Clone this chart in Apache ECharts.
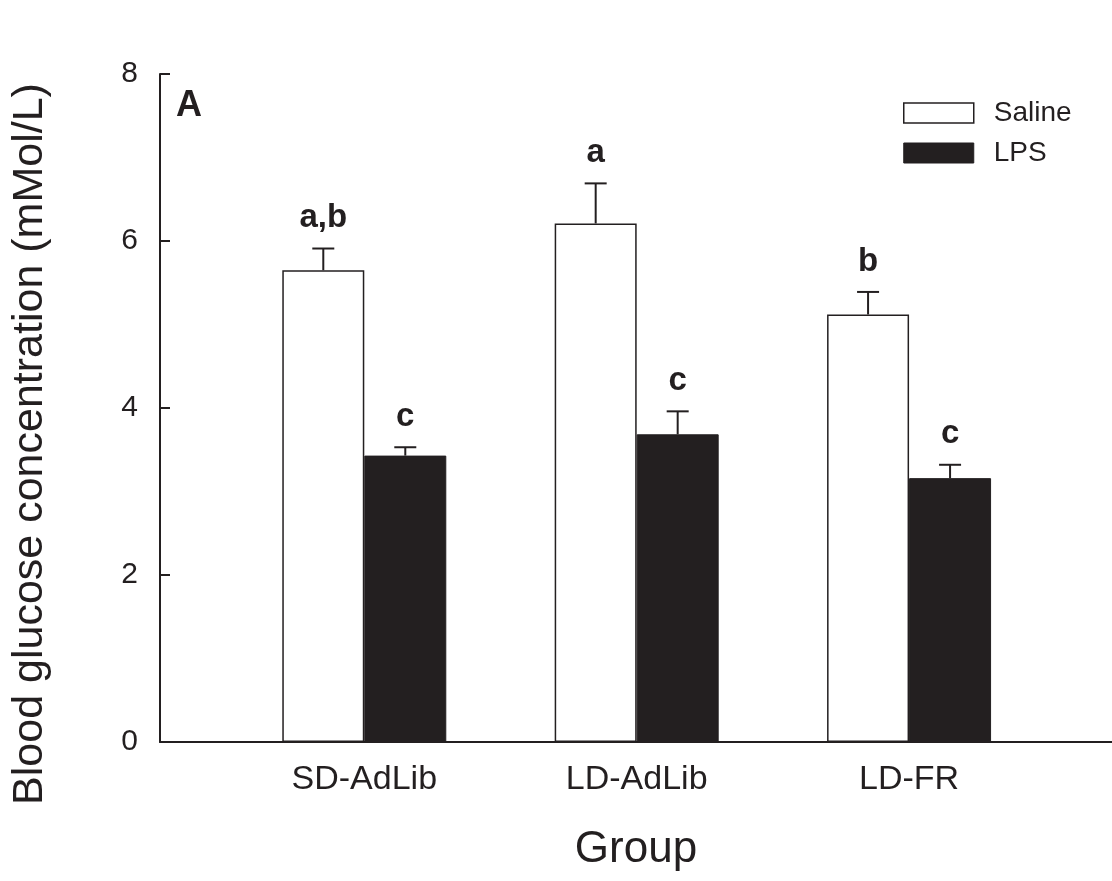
<!DOCTYPE html>
<html>
<head>
<meta charset="utf-8">
<script src="https://cdn.jsdelivr.net/npm/echarts@6/dist/echarts.min.js"></script>
<style>html,body{margin:0;padding:0;background:#fff;}#c{width:1112px;height:881px;}</style>
</head>
<body>
<div id="c"></div>
<script>
var categories = ['SD-AdLib', 'LD-AdLib', 'LD-FR'];
var categoryPos = [1, 2, 3];
var salineMean = [5.65, 6.21, 5.12];
var salineSem = [0.26, 0.48, 0.27];
var lpsMean = [3.43, 3.685, 3.16];
var lpsSem = [0.10, 0.275, 0.16];
var salineLetters = ['a,b', 'a', 'b'];
var lpsLetters = ['c', 'c', 'c'];
var yTicks = [0, 2, 4, 6, 8];

var INK = '#231f20';
var FONT = '"Liberation Sans", Arial, Helvetica, sans-serif';
var BAR_W = 82;

function pairs(vals) { return categoryPos.map(function (x, i) { return [x, vals[i]]; }); }
function triples(m, s) { return categoryPos.map(function (x, i) { return [x, m[i], s[i]]; }); }

function errRenderer(offset, letters) {
  return function (params, api) {
    var x = api.value(0), m = api.value(1), s = api.value(2);
    var base = api.coord([x, m]);
    var top = api.coord([x, m + s]);
    var cx = base[0] + offset;
    var capHalf = 11;
    return {
      type: 'group',
      children: [
        { type: 'line', shape: { x1: cx, y1: base[1], x2: cx, y2: top[1] }, style: { stroke: INK, lineWidth: 2 } },
        { type: 'line', shape: { x1: cx - capHalf, y1: top[1], x2: cx + capHalf, y2: top[1] }, style: { stroke: INK, lineWidth: 2 } },
        { type: 'text', x: cx, y: top[1] - 14, style: { text: letters[params.dataIndex], fill: INK, font: 'bold 33px ' + FONT, align: 'center', verticalAlign: 'bottom' } }
      ]
    };
  };
}

var chart = echarts.init(document.getElementById('c'), null, { renderer: 'canvas' });
chart.setOption({
  backgroundColor: '#fff',
  animation: false,
  grid: { left: 160, right: 0, top: 74, bottom: 139 },
  legend: {
    orient: 'vertical', left: 903, top: 99, padding: 0,
    icon: 'rect', itemWidth: 70, itemHeight: 20, itemGap: 12,
    textStyle: { fontSize: 28, fontFamily: FONT, color: INK, padding: [0, 0, 0, 15], lineHeight: 28 },
    data: [
      { name: 'Saline', itemStyle: { color: '#fff', borderColor: INK, borderWidth: 1.5 } },
      { name: 'LPS', itemStyle: { color: INK, borderColor: INK, borderWidth: 1 } }
    ]
  },
  xAxis: {
    type: 'value', min: 0.25, max: 3.745,
    name: 'Group', nameLocation: 'middle', nameGap: 86,
    nameTextStyle: { fontSize: 44, fontFamily: FONT, color: INK },
    axisLine: { show: true, onZero: false, lineStyle: { color: INK, width: 2 } },
    axisTick: { show: false },
    splitLine: { show: false },
    axisLabel: {
      customValues: categoryPos,
      formatter: function (v) { var i = categoryPos.indexOf(Math.round(v)); return i >= 0 ? categories[i] : ''; },
      fontSize: 34, fontFamily: FONT, color: INK, margin: 21
    }
  },
  yAxis: {
    type: 'value', min: 0, max: 8, interval: 2,
    axisLine: { show: true, lineStyle: { color: INK, width: 2 } },
    axisTick: { show: true, inside: true, length: 10, lineStyle: { color: INK, width: 2 } },
    splitLine: { show: false },
    axisLabel: {
      fontSize: 30, fontFamily: FONT, color: INK, margin: 22,
      formatter: function (v) { return yTicks.indexOf(v) >= 0 ? String(v) : ''; }
    }
  },
  graphic: [
    { type: 'text', x: 30, y: 444, rotation: Math.PI / 2,
      style: { text: 'Blood glucose concentration (mMol/L)', fill: INK, font: '43px ' + FONT, align: 'center', verticalAlign: 'middle' } },
    { type: 'text', x: 176, y: 106,
      style: { text: 'A', fill: INK, font: 'bold 36px ' + FONT, align: 'left', verticalAlign: 'middle' } }
  ],
  series: [
    { name: 'Saline', type: 'bar', data: pairs(salineMean), barWidth: BAR_W, barGap: '0%',
      itemStyle: { color: '#fff', borderColor: INK, borderWidth: 1.5 } },
    { name: 'LPS', type: 'bar', data: pairs(lpsMean), barWidth: BAR_W, barGap: '0%',
      itemStyle: { color: INK, borderColor: INK, borderWidth: 1 } },
    { name: 'SalineErr', type: 'custom', data: triples(salineMean, salineSem), z: 5,
      renderItem: errRenderer(-BAR_W / 2, salineLetters), encode: { x: 0, y: [1, 2] } },
    { name: 'LpsErr', type: 'custom', data: triples(lpsMean, lpsSem), z: 5,
      renderItem: errRenderer(BAR_W / 2, lpsLetters), encode: { x: 0, y: [1, 2] } }
  ]
});
</script>
</body>
</html>
